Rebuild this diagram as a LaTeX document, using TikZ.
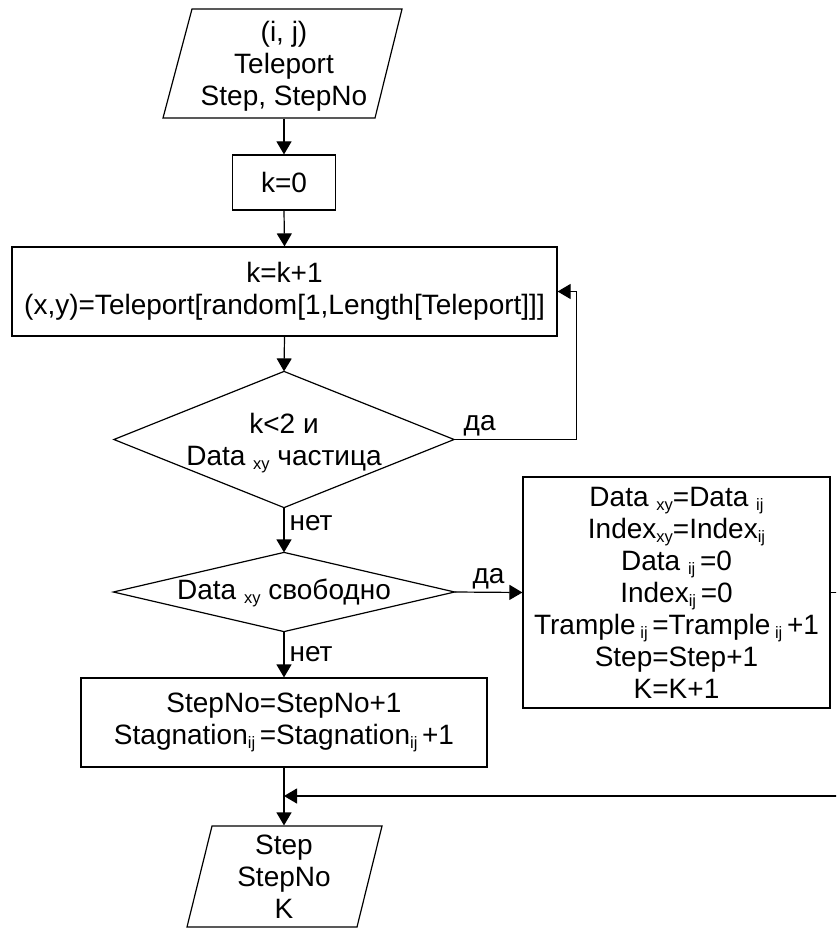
\documentclass[tikz,border=0pt]{standalone}
\usepackage{fontspec}
\setmainfont{Liberation Sans}
\usetikzlibrary{arrows.meta,calc}
\newcommand\sbx[1]{\raisebox{-4pt}{\fontsize{16.5}{16.5}\selectfont #1}}
\begin{document}
\begin{tikzpicture}[x=1pt,y=-1pt, line width=1.2pt,
  every node/.style={font=\fontsize{28}{32}\selectfont, align=center, inner sep=0pt},
  boxnode/.style={draw, rectangle},
  arr/.style={-{Triangle[length=13pt,width=15pt]}},
  lbl/.style={font=\fontsize{28}{32}\selectfont}]
\useasboundingbox (0,0) rectangle (836,928);
\clip (0,0) rectangle (836,928);

% input parallelogram
\node[rectangle, minimum height=104pt] (p1) at (284,66) {(i, j)\\Teleport\\Step, StepNo};
\draw (192,9) -- (402,9) -- (375,118) -- (163,118) -- cycle;

\node[boxnode, minimum width=103pt, minimum height=55pt] (k0) at (284,182.5) {k=0};

\node[boxnode, minimum width=545pt, minimum height=89pt] (b2) at (284.5,291.5)
  {k=k+1\\(x,y)=Teleport[random[1,Length[Teleport]]]};

% diamond 1
\node[rectangle, minimum width=339pt, minimum height=135pt] (d1) at (284,439.5) {};
\draw (d1.north) -- (d1.east) -- (d1.south) -- (d1.west) -- cycle;
\node (d1t) at (284,443) {k<2 и\\Data \sbx{xy} частица};

% diamond 2
\node[rectangle, minimum width=340pt, minimum height=78pt] (d2) at (284,592) {};
\draw (d2.north) -- (d2.east) -- (d2.south) -- (d2.west) -- cycle;
\node (d2t) at (284,593) {Data \sbx{xy} свободно};

\node[boxnode, minimum width=307pt, minimum height=231pt] (b3) at (676.5,592.5)
  {Data \sbx{xy}=Data \sbx{ij}\\
   Index\sbx{xy}=Index\sbx{ij}\\
   Data \sbx{ij}\,=0\\
   Index\sbx{ij}\,=0\\
   Trample\,\sbx{ij}\,=Trample\,\sbx{ij}\,+1\\
   Step=Step+1\\
   K=K+1};

\node[boxnode, minimum width=406pt, minimum height=89pt] (b4) at (284,722.5)
  {StepNo=StepNo+1\\Stagnation\sbx{ij}\,=Stagnation\sbx{ij}\,+1};

% output parallelogram
\node[rectangle, minimum height=101pt] (p2) at (284,876.5) {Step\\StepNo\\K};
\draw (212,826) -- (382,826) -- (357,927) -- (187,927) -- cycle;

% connectors
\draw[arr] (p1.south) -- (k0.north);
\draw[arr] (k0.south) -- (b2.north);
\draw[arr] (b2.south) -- (d1.north);
\coordinate (c1) at ($(b2.east)+(19,0)$);
\draw[arr] (d1.east) -| (c1) -- (b2.east);
\node[lbl, anchor=south west] (yes1) at ($(d1.east)+(9,-3)$) {да};
\draw[arr] (d1.south) -- (d2.north);
\node[lbl, anchor=west] (no1) at ($(d1.south)+(5,15)$) {нет};
\draw[arr] (d2.east) -- (b3.west);
\node[lbl, anchor=south] (yes2) at ($(d2.east)!0.5!(b3.west)+(0,-3)$) {да};
\draw[arr] (d2.south) -- (b4.north);
\node[lbl, anchor=west] (no2) at ($(d2.south)+(5,22)$) {нет};
\draw[arr] (b4.south) -- (p2.north);
\coordinate (j) at (284,796);
\coordinate (c2) at ($(b3.east)+(20,0)$);
\draw[arr] (b3.east) -- (c2) |- (j);
\end{tikzpicture}
\end{document}
